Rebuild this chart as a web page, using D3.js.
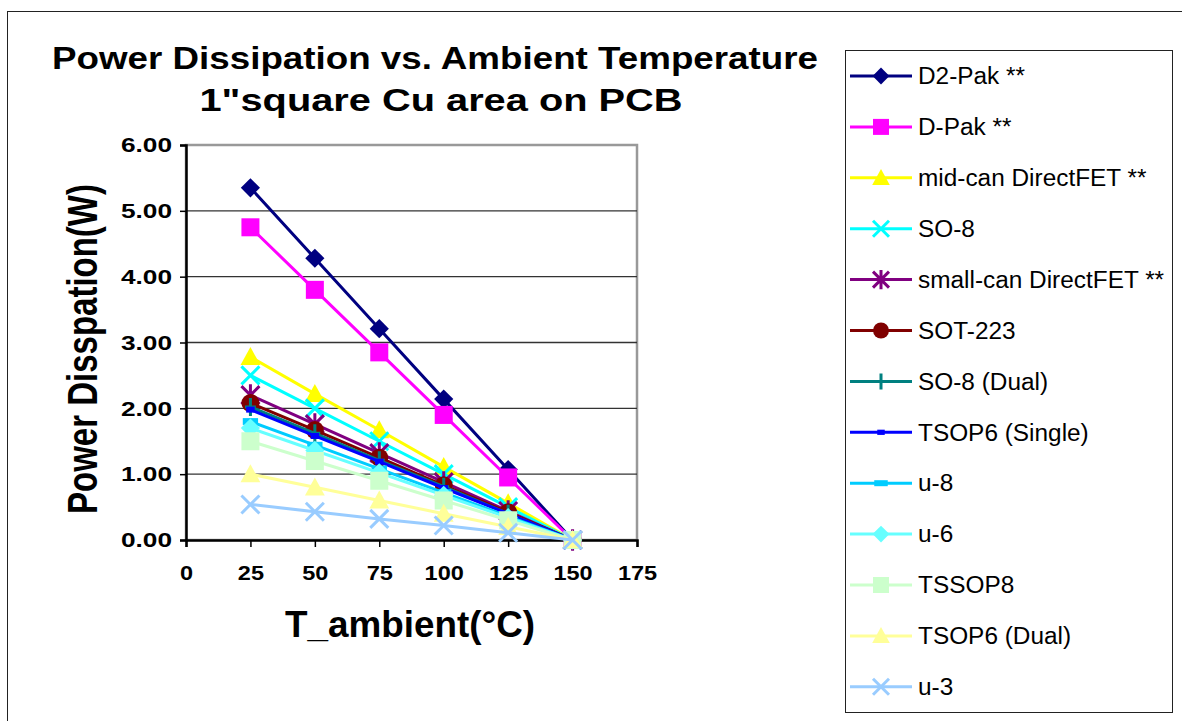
<!DOCTYPE html>
<html>
<head>
<meta charset="utf-8">
<script src="https://cdn.jsdelivr.net/npm/d3@7"></script>
<style>
body { margin: 0; background: white; }
svg { display: block; font-family: Arial, "Liberation Sans", sans-serif; }
</style>
</head>
<body>
<script>
/* Data */
var temps = [25, 50, 75, 100, 125, 150];
var seriesNames = ["D2-Pak **", "D-Pak **", "mid-can DirectFET **", "SO-8", "small-can DirectFET **",
	"SOT-223", "SO-8 (Dual)", "TSOP6 (Single)", "u-8", "u-6", "TSSOP8", "TSOP6 (Dual)", "u-3"];
var d2pak     = [5.35, 4.28, 3.21, 2.14, 1.07, 0];
var dpak      = [4.75, 3.80, 2.85, 1.90, 0.95, 0];
var midcan    = [2.78, 2.22, 1.67, 1.11, 0.56, 0];
var so8       = [2.50, 2.00, 1.50, 1.00, 0.50, 0];
var smallcan  = [2.20, 1.76, 1.32, 0.88, 0.44, 0];
var sot223    = [2.08, 1.67, 1.25, 0.83, 0.42, 0];
var so8dual   = [2.02, 1.62, 1.21, 0.81, 0.40, 0];
var tsop6     = [1.98, 1.58, 1.19, 0.79, 0.40, 0];
var u8        = [1.80, 1.44, 1.08, 0.72, 0.36, 0];
var u6        = [1.70, 1.36, 1.02, 0.68, 0.34, 0];
var tssop8    = [1.50, 1.20, 0.90, 0.60, 0.30, 0];
var tsop6dual = [1.00, 0.80, 0.60, 0.40, 0.20, 0];
var u3        = [0.54, 0.43, 0.32, 0.22, 0.11, 0];
var seriesValues = [d2pak, dpak, midcan, so8, smallcan, sot223, so8dual, tsop6, u8, u6, tssop8, tsop6dual, u3];
var xTicks = [0, 25, 50, 75, 100, 125, 150, 175];
var yTicks = [0, 1, 2, 3, 4, 5, 6];

var colors = ["#000080", "#FF00FF", "#FFFF00", "#00FFFF", "#800080", "#800000", "#008080",
	"#0000FF", "#00CCFF", "#66FFFF", "#CCFFCC", "#FFFF99", "#99CCFF"];
var markers = ["diamond", "square", "triangle", "x", "star", "circle", "plus",
	"dash", "bar", "diamond", "square", "triangle", "x"];

/* Display setup */
var W = 1182, H = 721,
	plot = {left: 186, right: 637, top: 145, bottom: 540};

var svg = d3.select("body").append("svg")
	.attr("width", W)
	.attr("height", H);

// the original chart is a bit wider than its fonts, stretch text horizontally
function stretch(sel, k) {
	sel.each(function() {
		var len = this.getComputedTextLength();
		d3.select(this).attr("textLength", len * k).attr("lengthAdjust", "spacingAndGlyphs");
	});
}

// outer chart frame
svg.append("rect")
	.attr("x", 7.5).attr("y", 11.5)
	.attr("width", W + 20).attr("height", H + 20)
	.style("fill", "white").style("stroke", "#222").style("stroke-width", 1);

var x = d3.scaleLinear().domain([0, 175]).range([plot.left, plot.right]),
	y = d3.scaleLinear().domain([0, 6]).range([plot.bottom, plot.top]);

// title
svg.append("text")
	.attr("x", 435).attr("y", 69)
	.attr("text-anchor", "middle")
	.attr("textLength", 766).attr("lengthAdjust", "spacingAndGlyphs")
	.style("font-weight", "bold").style("font-size", "32px")
	.text("Power Dissipation vs. Ambient Temperature");
svg.append("text")
	.attr("x", 441).attr("y", 111)
	.attr("text-anchor", "middle")
	.attr("textLength", 483).attr("lengthAdjust", "spacingAndGlyphs")
	.style("font-weight", "bold").style("font-size", "32px")
	.text("1\"square Cu area on PCB");

// plot area border (grey top / right)
svg.append("rect")
	.attr("x", plot.left).attr("y", plot.top)
	.attr("width", plot.right - plot.left).attr("height", plot.bottom - plot.top)
	.style("fill", "none").style("stroke", "#999").style("stroke-width", 2.5);

// gridlines
svg.append("g").selectAll("line")
	.data(yTicks.slice(1, -1))
	.enter().append("line")
		.attr("x1", plot.left).attr("x2", plot.right)
		.attr("y1", function(d) { return y(d); })
		.attr("y2", function(d) { return y(d); })
		.style("stroke", "#333").style("stroke-width", 1.3);

// axes
var yAxis = svg.append("g")
	.attr("transform", "translate(" + plot.left + ",0)")
	.call(d3.axisLeft(y).tickValues(yTicks).tickFormat(d3.format(".2f")).tickSize(6).tickPadding(8));
var xAxis = svg.append("g")
	.attr("transform", "translate(0," + plot.bottom + ")")
	.call(d3.axisBottom(x).tickValues(xTicks).tickSize(7).tickPadding(18));

[xAxis, yAxis].forEach(function(a) {
	a.select(".domain").style("stroke", "#000").style("stroke-width", 2.5);
	a.selectAll(".tick line").style("stroke", "#000").style("stroke-width", 1.5);
	a.selectAll("text")
		.style("font-family", "Arial, 'Liberation Sans', sans-serif")
		.style("font-size", "21px")
		.style("font-weight", "bold")
		.style("fill", "#000");
});
stretch(yAxis.selectAll("text"), 1.25);
stretch(xAxis.selectAll("text"), 1.12);

// axis titles
svg.append("g")
	.attr("transform", "translate(97,349) scale(1.3,1) rotate(-90)")
	.append("text")
		.attr("text-anchor", "middle")
		.style("font-weight", "bold").style("font-size", "33px")
		.text("Power Disspation(W)");
svg.append("text")
	.attr("text-anchor", "middle")
	.attr("x", 410).attr("y", 637)
	.attr("textLength", 250).attr("lengthAdjust", "spacingAndGlyphs")
	.style("font-weight", "bold").style("font-size", "36px")
	.text("T_ambient(°C)");

/* Markers */
function drawMarker(g, type, color, s) {
	var h = s / 2;
	if (type == "diamond") {
		g.append("path").attr("d", "M0," + (-h * 1.2) + "L" + (h * 1.2) + ",0L0," + (h * 1.2) + "L" + (-h * 1.2) + ",0Z").style("fill", color);
	} else if (type == "square") {
		g.append("rect").attr("x", -h).attr("y", -h).attr("width", s).attr("height", s).style("fill", color);
	} else if (type == "triangle") {
		g.append("path").attr("d", "M0," + (-h * 1.1) + "L" + (h * 1.1) + "," + (h * 0.9) + "L" + (-h * 1.1) + "," + (h * 0.9) + "Z").style("fill", color);
	} else if (type == "x") {
		g.append("path").attr("d", "M" + (-h) + "," + (-h) + "L" + h + "," + h + "M" + (-h) + "," + h + "L" + h + "," + (-h))
			.style("stroke", color).style("stroke-width", 3).style("fill", "none");
	} else if (type == "star") {
		g.append("path").attr("d", "M" + (-h) + "," + (-h) + "L" + h + "," + h + "M" + (-h) + "," + h + "L" + h + "," + (-h) + "M0," + (-h * 1.2) + "L0," + (h * 1.2))
			.style("stroke", color).style("stroke-width", 3).style("fill", "none");
	} else if (type == "circle") {
		g.append("circle").attr("r", h).style("fill", color);
	} else if (type == "plus") {
		g.append("path").attr("d", "M" + (-h * 0.6) + ",0L" + (h * 0.6) + ",0M0," + (-h) + "L0," + h)
			.style("stroke", color).style("stroke-width", 3).style("fill", "none");
	} else if (type == "dash") {
		g.append("rect").attr("x", -h * 0.5).attr("y", -h * 0.35).attr("width", h).attr("height", h * 0.7).style("fill", color);
	} else if (type == "bar") {
		g.append("rect").attr("x", -h * 0.9).attr("y", -h * 0.4).attr("width", h * 1.8).attr("height", h * 0.8).style("fill", color);
	}
}
function markerSize(type, base) {
	if (type == "diamond") return base - 2;
	if (type == "dash" || type == "bar") return base - 1;
	return base;
}

/* Series */
var line = d3.line()
	.x(function(d, i) { return x(temps[i]); })
	.y(function(d) { return y(d); });

var seriesG = svg.append("g").selectAll("g")
	.data(seriesValues)
	.enter().append("g");

seriesG.append("path")
	.attr("d", function(d) { return line(d); })
	.style("fill", "none")
	.style("stroke", function(d, i) { return colors[i]; })
	.style("stroke-width", 3);

seriesG.each(function(vals, i) {
	var g = d3.select(this);
	vals.forEach(function(v, j) {
		var m = g.append("g").attr("transform", "translate(" + x(temps[j]) + "," + y(v) + ")");
		drawMarker(m, markers[i], colors[i], markerSize(markers[i], 18));
	});
});

/* Legend */
var legend = svg.append("g");
legend.append("rect")
	.attr("x", 845.5).attr("y", 50.5)
	.attr("width", 327).attr("height", 662)
	.style("fill", "white").style("stroke", "#222").style("stroke-width", 1);

var item = legend.selectAll("g.item")
	.data(seriesNames)
	.enter().append("g")
		.attr("class", "item")
		.attr("transform", function(d, i) { return "translate(0," + (76 + i * 50.9) + ")"; });

item.append("line")
	.attr("x1", 850).attr("x2", 912)
	.style("stroke", function(d, i) { return colors[i]; })
	.style("stroke-width", 3);
item.each(function(d, i) {
	var m = d3.select(this).append("g").attr("transform", "translate(881,0)");
	drawMarker(m, markers[i], colors[i], markerSize(markers[i], 16));
});
var legendText = item.append("text")
	.attr("x", 918)
	.attr("dy", "0.36em")
	.style("font-size", "23px")
	.text(function(d) { return d; });
stretch(legendText, 1.06);
</script>
</body>
</html>
